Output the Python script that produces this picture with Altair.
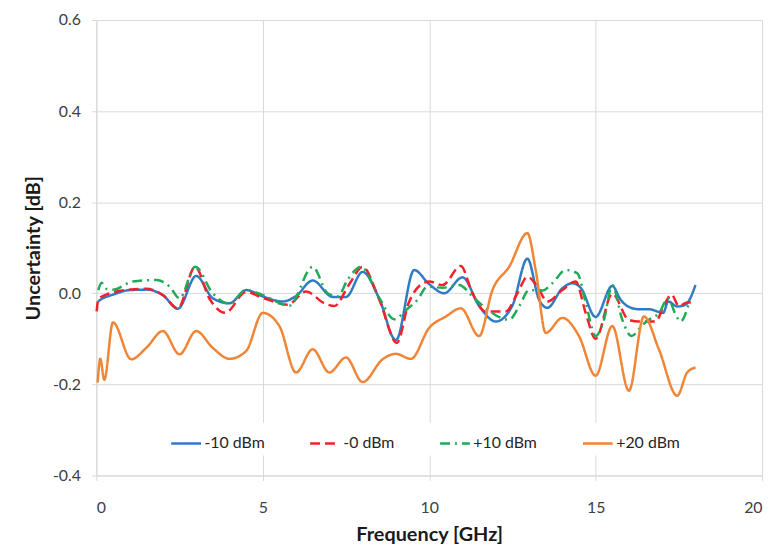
import altair as alt
import pandas as pd

series_names = ["-10 dBm", "-0 dBm", "+10 dBm", "+20 dBm"]
series_colors = ["#2f7bc4", "#f5202a", "#1faa55", "#ef8535"]
series_dashes = [[1, 0], [10, 5], [10, 5, 2, 5], [1, 0]]

blue_f = [0.05, 0.2, 0.5, 1.0, 1.5, 2.0, 2.45, 3.0, 3.5, 4.0, 4.5, 5.0, 5.6, 6.0, 6.5, 7.1, 7.5, 8.0,
          8.5, 9.0, 9.55, 10.0, 10.45, 11.0, 11.5, 12.0, 12.5, 12.95, 13.3, 13.55, 14.0, 14.3, 14.55,
          15.0, 15.5, 15.75, 16.0, 16.3, 16.6, 17.03, 17.18, 17.45, 17.7, 18.0]
blue_v = [-0.018, -0.011, -0.003, 0.007, 0.008, -0.004, -0.034, 0.038, -0.011, -0.022, 0.007, -0.007,
          -0.018, -0.006, 0.028, -0.008, -0.008, 0.047, -0.012, -0.103, 0.051, 0.02, 0.0, 0.035, -0.028,
          -0.062, -0.027, 0.076, -0.014, -0.032, 0.011, 0.022, 0.012, -0.052, 0.016, -0.014, -0.03,
          -0.035, -0.035, -0.043, -0.018, -0.029, -0.025, 0.018]

red_f = [0.01, 0.06, 0.3, 1.0, 1.5, 2.0, 2.45, 2.97, 3.4, 3.87, 4.5, 5.0, 5.75, 6.3, 6.85, 7.15, 7.6,
         8.0, 8.5, 9.03, 9.38, 9.73, 10.0, 10.4, 10.95, 11.3, 11.7, 12.3, 12.65, 12.95, 13.25, 13.55,
         14.0, 14.4, 14.7, 15.0, 15.5, 15.99, 16.3, 16.8, 17.08, 17.28, 17.5, 17.75, 18.0]
red_v = [-0.04, -0.014, -0.003, 0.008, 0.01, -0.004, -0.033, 0.058, -0.012, -0.043, 0.003, -0.01,
         -0.025, 0.004, -0.022, -0.028, 0.02, 0.058, -0.014, -0.109, -0.022, 0.018, 0.026, 0.018, 0.06,
         0.0, -0.04, -0.04, 0.0, 0.036, 0.015, -0.018, 0.007, 0.026, -0.043, -0.1, -0.001, -0.058,
         -0.062, -0.062, -0.022, -0.003, -0.028, -0.02, -0.022]

green_f = [0.06, 0.16, 0.3, 0.5, 1.1, 1.8, 2.2, 2.5, 2.97, 3.5, 4.0, 4.5, 5.0, 5.8, 6.5, 6.95, 7.25,
           7.55, 7.95, 8.5, 8.95, 9.3, 9.65, 9.95, 10.4, 10.9, 11.3, 11.7, 12.4, 12.7, 13.0, 13.4, 13.7,
           14.1, 14.45, 14.7, 15.0, 15.25, 15.5, 15.8, 16.08, 16.4, 16.6, 16.9, 17.18, 17.38, 17.55, 17.8]
green_v = [0.007, 0.023, 0.01, 0.008, 0.026, 0.029, 0.015, -0.011, 0.058, 0.0, -0.023, 0.007, -0.004,
           -0.027, 0.058, 0.0, -0.007, 0.03, 0.058, -0.01, -0.057, -0.037, -0.014, 0.015, 0.012, 0.018,
           -0.007, -0.033, -0.058, -0.029, 0.007, 0.006, 0.022, 0.051, 0.044, -0.02, -0.094, -0.058,
           0.018, -0.058, -0.094, -0.07, -0.058, -0.044, -0.011, -0.043, -0.062, -0.022]

orange_f = [0.04, 0.12, 0.24, 0.5, 1.05, 1.5, 2.0, 2.5, 3.0, 3.5, 4.0, 4.5, 5.0, 5.5, 6.0, 6.5, 7.0,
            7.5, 8.0, 8.6, 9.0, 9.45, 10.0, 10.5, 10.95, 11.5, 11.9, 12.4, 12.95, 13.2, 13.5, 14.0,
            14.5, 15.0, 15.5, 16.0, 16.45, 16.9, 17.45, 17.75, 18.0]
orange_v = [-0.196, -0.144, -0.19, -0.064, -0.145, -0.12, -0.083, -0.134, -0.083, -0.12, -0.144,
            -0.127, -0.043, -0.072, -0.174, -0.123, -0.174, -0.141, -0.195, -0.145, -0.133, -0.144,
            -0.076, -0.051, -0.033, -0.094, 0.007, 0.058, 0.132, 0.051, -0.087, -0.054, -0.094,
            -0.181, -0.072, -0.214, -0.051, -0.123, -0.225, -0.174, -0.163]

x_ticks = [0, 5, 10, 15, 20]
y_ticks = [-0.4, -0.2, 0.0, 0.2, 0.4, 0.6]

rows = []
for name, fs, vs in zip(series_names, [blue_f, red_f, green_f, orange_f],
                        [blue_v, red_v, green_v, orange_v]):
    for i, (f, v) in enumerate(zip(fs, vs)):
        rows.append({"series": name, "freq": f, "value": v, "order": i})
df = pd.DataFrame(rows)

FONT = "Lato"

chart = alt.Chart(df).mark_line(strokeWidth=2.5, interpolate="monotone").encode(
    x=alt.X("freq:Q", title="Frequency [GHz]",
            scale=alt.Scale(domain=[0, 20], nice=False),
            axis=alt.Axis(values=x_ticks, format="d", labelPadding=19, titlePadding=10)),
    y=alt.Y("value:Q", title="Uncertainty [dB]",
            scale=alt.Scale(domain=[-0.4, 0.6], nice=False),
            axis=alt.Axis(values=y_ticks, labelPadding=11, titlePadding=9,
                          labelExpr="(datum.value < 0 ? '-' : '') + format(abs(datum.value), '.1f')")),
    color=alt.Color("series:N", sort=series_names,
                    scale=alt.Scale(domain=series_names, range=series_colors),
                    legend=alt.Legend(title=None)),
    strokeDash=alt.StrokeDash("series:N", sort=series_names,
                              scale=alt.Scale(domain=series_names, range=series_dashes),
                              legend=alt.Legend(title=None)),
    order="order:Q",
).properties(
    width=671, height=459,
    autosize=alt.AutoSizeParams(type="none"),
    padding={"left": 89, "top": 10, "right": 10, "bottom": 70},
).configure_view(
    stroke=None
).configure_axis(
    gridColor="#d9d9d9", gridWidth=1,
    domainColor="#d9d9d9", tickColor="#d9d9d9", tickSize=5,
    labelFont=FONT, labelFontSize=16, labelColor="#404040",
    titleFont=FONT, titleFontSize=20, titleFontWeight="bold", titleColor="#1a1a1a",
).configure_legend(
    orient="none", legendX=70, legendY=406, direction="horizontal",
    fillColor="white", padding=4,
    symbolType="stroke", symbolSize=900, symbolStrokeWidth=2.5,
    labelFont=FONT, labelFontSize=16, labelColor="#262626",
    labelOffset=2, columnPadding=40,
)

chart.save("out.html", embed_options={"renderer": "svg", "actions": False})
